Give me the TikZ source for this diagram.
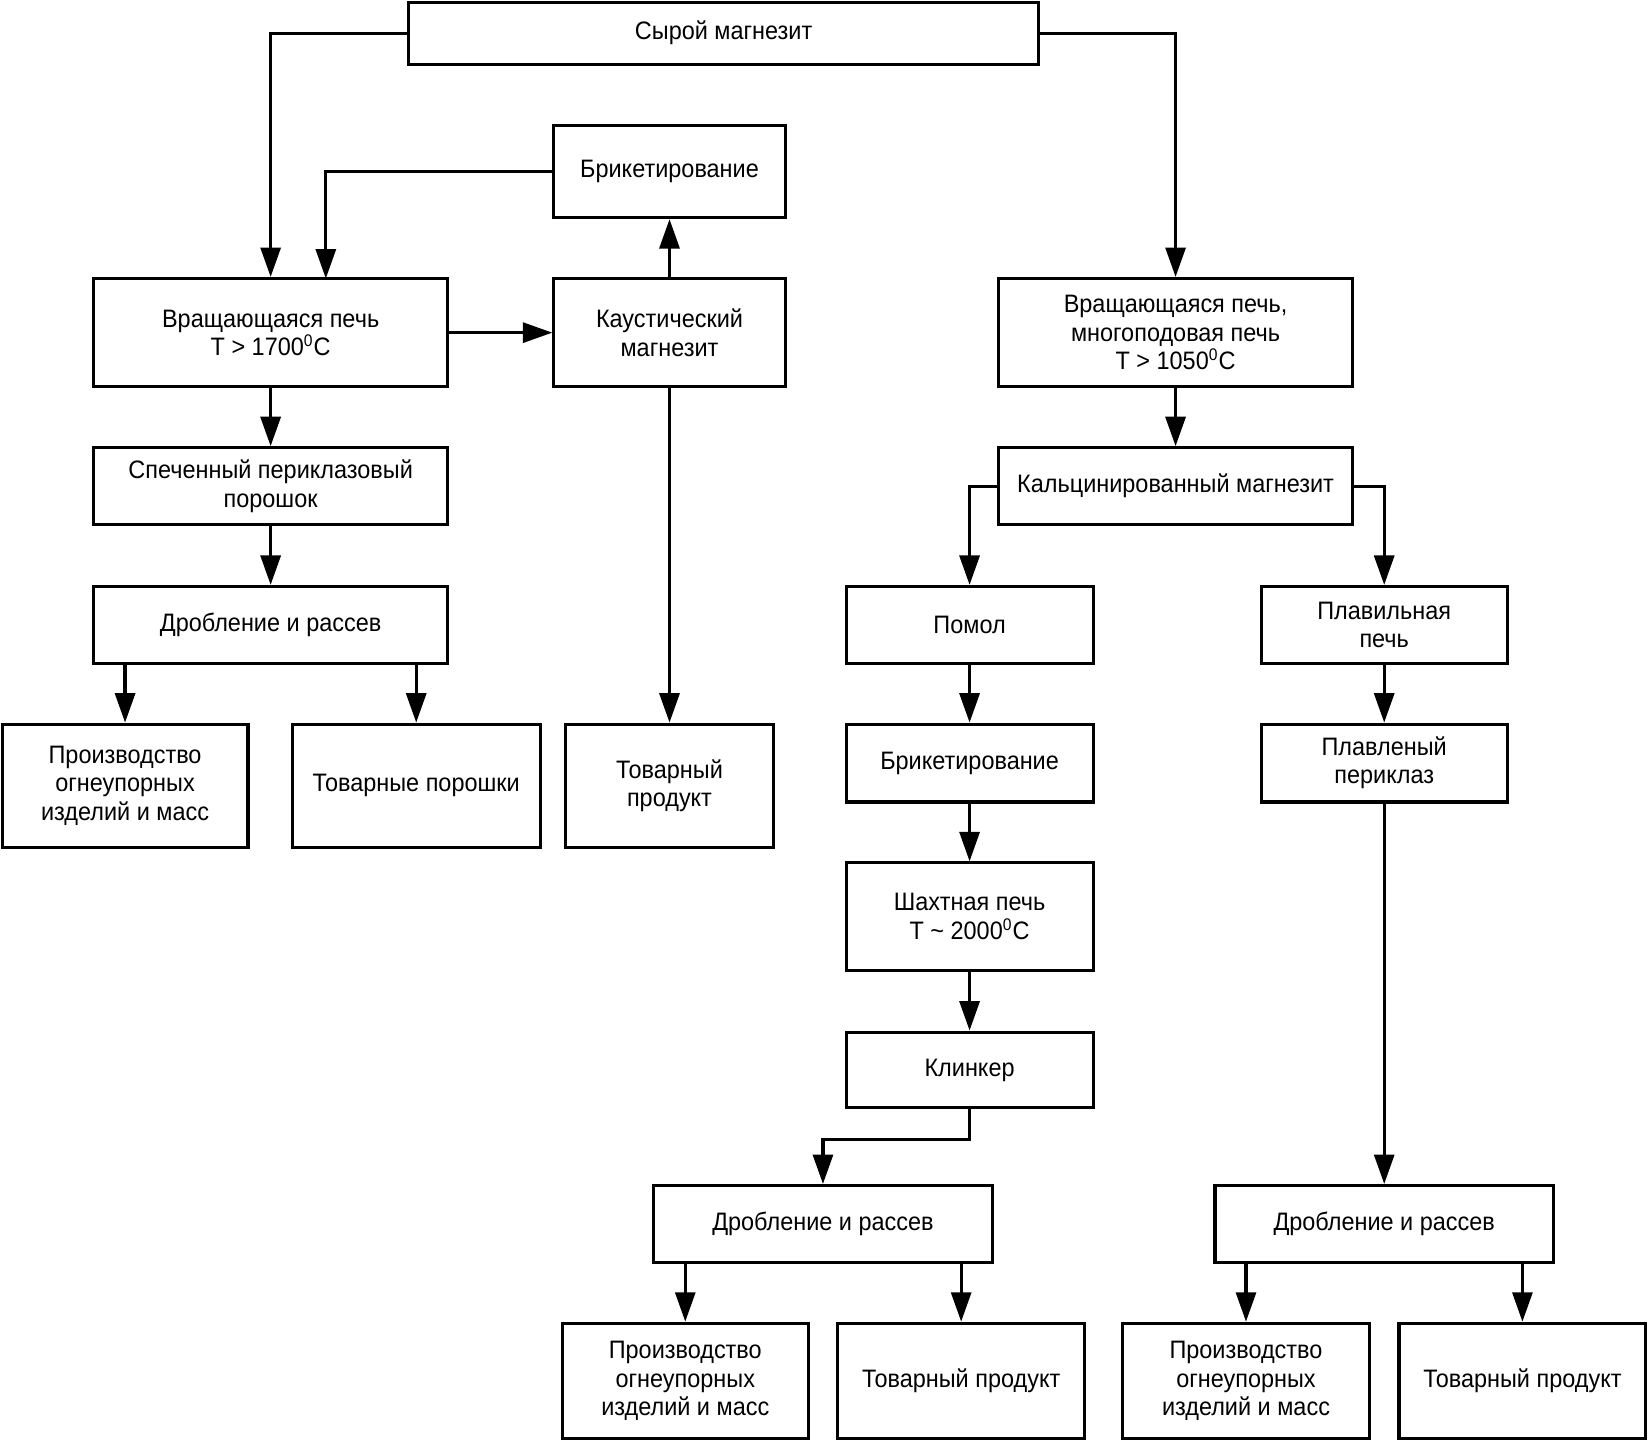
\documentclass[tikz,border=0pt]{standalone}
\usepackage{fontspec}
\setmainfont{Liberation Sans}[FakeStretch=0.93]
\usetikzlibrary{arrows.meta,calc}
\tikzset{
  box/.style={draw=black, line width=1.5pt, fill=white, align=center, inner sep=0pt,
    font=\fontsize{12pt}{13.5pt}\selectfont},
  arr/.style={draw=black, line width=1.5pt, line join=miter,
    -{Triangle[length=14pt,width=9.5pt]}},
  ln/.style={draw=black, line width=1.5pt, line join=miter}
}
% name, x1, y1, x2, y2, text
\newcommand\bx[6]{\node[box, minimum width={(#4-#2)*0.5pt}, minimum height={(#5-#3)*0.5pt}]
  (#1) at ({(#2+#4)/2},{(#3+#5)/2}) {#6};}
\begin{document}
\begin{tikzpicture}[x=0.5pt,y=-0.5pt]
\useasboundingbox (0,0) rectangle (1568,1372);
% boxes
\bx{raw}{389}{2}{988}{61}{Сырой магнезит}
\bx{brik}{527}{119}{747}{207}{Брикетирование}
\bx{kilnA}{89}{265}{426}{368}{Вращающаяся печь\\T > 1700\textsuperscript{0}C}
\bx{caus}{527}{265}{747}{368}{Каустический\\магнезит}
\bx{sint}{89}{426}{426}{499}{Спеченный периклазовый\\порошок}
\bx{drobA}{89}{558}{426}{631}{Дробление и рассев}
\bx{prodA}{2}{689}{236}{806}{Производство\\огнеупорных\\изделий и масс}
\bx{tovp}{278}{689}{514}{806}{Товарные порошки}
\bx{tovA}{538}{689}{736}{806}{Товарный\\продукт}
\bx{kilnB}{950}{265}{1287}{368}{Вращающаяся печь,\\многоподовая печь\\T > 1050\textsuperscript{0}C}
\bx{calc}{950}{426}{1287}{499}{Кальцинированный магнезит}
\bx{pomol}{805}{558}{1040}{631}{Помол}
\bx{brikB}{805}{689}{1040}{763}{Брикетирование}
\bx{shaft}{805}{821}{1040}{923}{Шахтная печь\\T \textasciitilde\ 2000\textsuperscript{0}C}
\bx{klink}{805}{982}{1040}{1054}{Клинкер}
\bx{plav}{1200}{558}{1434}{631}{Плавильная\\печь}
\bx{plavl}{1200}{689}{1434}{763}{Плавленый\\периклаз}
\bx{drobB}{622}{1128}{944}{1201}{Дробление и рассев}
\bx{prodB}{535}{1259}{769}{1369}{Производство\\огнеупорных\\изделий и масс}
\bx{tovB}{797}{1259}{1032}{1369}{Товарный продукт}
\bx{drobC}{1156}{1128}{1478}{1201}{Дробление и рассев}
\bx{prodC}{1068}{1259}{1303}{1369}{Производство\\огнеупорных\\изделий и масс}
\bx{tovC}{1331}{1259}{1566}{1369}{Товарный продукт}
% helper coordinates
\coordinate (brikIn) at (310,265);
\coordinate (klinkMid) at (850,1084);
% connectors
\draw[arr] (raw.west) -| (kilnA.north);
\draw[arr] (raw.east) -| (kilnB.north);
\draw[arr] (brik.west) -| (brikIn);
\draw[arr] (kilnA.east) -- (caus.west);
\draw[arr] (caus.north) -- (brik.south);
\draw[arr] (caus.south) -- (tovA.north);
\draw[arr] (kilnA.south) -- (sint.north);
\draw[arr] (sint.south) -- (drobA.north);
\draw[arr] (drobA.south -| prodA.north) -- (prodA.north);
\draw[arr] (drobA.south -| tovp.north) -- (tovp.north);
\draw[arr] (kilnB.south) -- (calc.north);
\draw[arr] (calc.west) -| (pomol.north);
\draw[arr] (calc.east) -| (plav.north);
\draw[arr] (pomol.south) -- (brikB.north);
\draw[arr] (brikB.south) -- (shaft.north);
\draw[arr] (shaft.south) -- (klink.north);
\draw[arr] (klink.south) |- (klinkMid) -| (drobB.north);
\draw[arr] (plav.south) -- (plavl.north);
\draw[arr] (plavl.south) -- (drobC.north);
\draw[arr] (drobB.south -| prodB.north) -- (prodB.north);
\draw[arr] (drobB.south -| tovB.north) -- (tovB.north);
\draw[arr] (drobC.south -| prodC.north) -- (prodC.north);
\draw[arr] (drobC.south -| tovC.north) -- (tovC.north);
\end{tikzpicture}
\end{document}
